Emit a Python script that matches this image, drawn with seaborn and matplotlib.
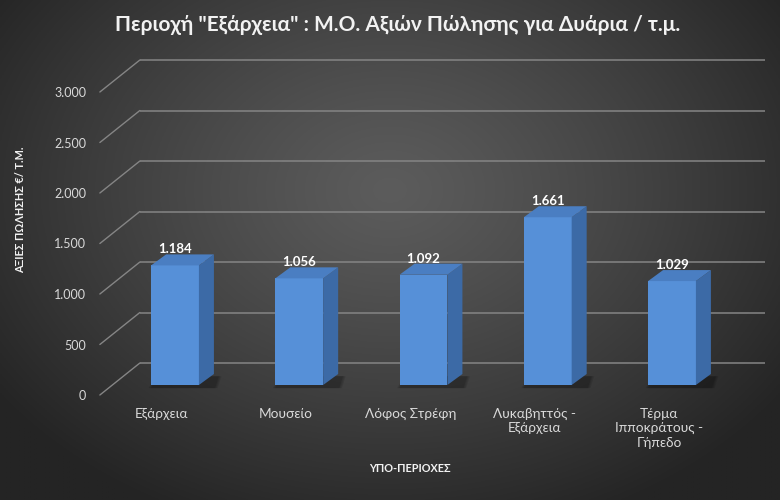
import numpy as np
import pandas as pd
import matplotlib
matplotlib.use("Agg")
import matplotlib.pyplot as plt
from matplotlib.patches import Polygon
import seaborn as sns

# ---- data ----
categories = ["Εξάρχεια", "Μουσείο", "Λόφος Στρέφη", "Λυκαβηττός -\nΕξάρχεια", "Τέρμα\nΙπποκράτους -\nΓήπεδο"]
values = [1184, 1056, 1092, 1661, 1029]
value_labels = ["1.184", "1.056", "1.092", "1.661", "1.029"]
yticks = [0, 500, 1000, 1500, 2000, 2500, 3000]
ytick_labels = ["0", "500", "1.000", "1.500", "2.000", "2.500", "3.000"]
title = 'Περιοχή "Εξάρχεια" : Μ.Ο. Αξιών Πώλησης για Δυάρια / τ.μ.'
ylabel = "ΑΞΙΕΣ ΠΩΛΗΣΗΣ €/ Τ.Μ."
xlabel = "ΥΠΟ-ΠΕΡΙΟΧΕΣ"

sns.set_style("white")
plt.rcParams["font.family"] = ["Lato", "DejaVu Sans"]

W, H = 780, 500
fig = plt.figure(figsize=(W / 100, H / 100), dpi=100)

# ---- background gradient ----
ax_bg = fig.add_axes([0, 0, 1, 1], zorder=0)
yy, xx = np.mgrid[0:1:300j, 0:1:400j]
r = np.sqrt(((xx - 0.5) / 0.62) ** 2 + ((yy - 0.62) / 0.72) ** 2)
r = np.clip(r, 0, 1)
lum = (92 + (36 - 92) * r ** 1.2) / 255.0
img = np.dstack([lum, lum, lum])
ax_bg.imshow(img, extent=[0, 1, 0, 1], origin="lower", aspect="auto")
ax_bg.set_axis_off()

# ---- geometry of the oblique projection (pixels) ----
XS = 124.25   # px per category
YS = 0.101    # px per value unit
X0, Y0 = 175, 385  # bar-plane: category 0 centre, value 0 (px from top)
BAR_D = (15, 11)    # bar depth offset (right, up) in px
BACK = (27, 22)     # back wall offset
FRONT = (-13, -10)  # front (axis labels) plane offset

# bar-plane axes covering the whole figure
ax = fig.add_axes([0, 0, 1, 1], zorder=2)
ax.patch.set_alpha(0)
df = pd.DataFrame({"cat": categories, "val": values})
bw = 0.385
sns.barplot(data=df, x="cat", y="val", ax=ax, width=bw, color="#5690d8",
            saturation=1, edgecolor="none", zorder=3)
ax.set_xlim(-X0 / XS, (W - X0) / XS)
ax.set_ylim((Y0 - H) / YS, Y0 / YS)
ax.set_axis_off()

dxb, dyb = BAR_D[0] / XS, BAR_D[1] / YS
dxw, dyw = BACK[0] / XS, BACK[1] / YS
dxf, dyf = FRONT[0] / XS, FRONT[1] / YS

# back wall gridlines + diagonal side-wall lines
x_wall_l, x_wall_r = -0.5, (765 - BACK[0] - X0) / XS
for v in yticks:
    ax.plot([x_wall_l + dxw, x_wall_r + dxw], [v + dyw, v + dyw],
            color="#858585", lw=1.1, zorder=1, solid_capstyle="butt")
    ax.plot([x_wall_l + dxf, x_wall_l + dxw], [v + dyf, v + dyw],
            color="#858585", lw=1.0, zorder=1)

# 3D faces and shadows of bars
for p, lab in zip(ax.patches, value_labels):
    x0 = p.get_x()
    x1 = x0 + p.get_width()
    h = p.get_height()
    for k, a in enumerate([0.10, 0.10, 0.12]):
        sh = Polygon([(x0 - 0.02 + 0.01 * k, -30), (x1 + dxb + 0.03 - 0.01 * k, -30),
                      (x1 + dxb + 0.06 - 0.01 * k, dyb * 0.8), (x0 + 0.04, dyb * 0.8)],
                     closed=True, facecolor="black", alpha=a, edgecolor="none", zorder=2)
        ax.add_patch(sh)
    side = Polygon([(x1, 0), (x1, h), (x1 + dxb, h + dyb), (x1 + dxb, dyb)],
                   closed=True, facecolor="#3c6aa6", edgecolor="none", zorder=3)
    top = Polygon([(x0, h), (x1, h), (x1 + dxb, h + dyb), (x0 + dxb, h + dyb)],
                  closed=True, facecolor="#4a7ec2", edgecolor="none", zorder=3)
    ax.add_patch(side)
    ax.add_patch(top)
    ax.text((x0 + x1) / 2, h + 16 / YS, lab, ha="center", va="center",
            fontsize=9.5, fontweight="bold", color="white", zorder=5)

# front plane axes for tick labels
axf = fig.add_axes([0, 0, 1, 1], zorder=3)
axf.patch.set_alpha(0)
axf.set_xlim(-(X0 + FRONT[0]) / XS, (W - X0 - FRONT[0]) / XS)
axf.set_ylim((Y0 - FRONT[1] - H) / YS, (Y0 - FRONT[1]) / YS)
for s in axf.spines.values():
    s.set_visible(False)
axf.spines["left"].set_position(("data", -0.5))
axf.spines["bottom"].set_position(("data", 0))
axf.set_yticks(yticks)
axf.set_yticklabels(ytick_labels)
axf.set_xticks(range(len(categories)))
axf.set_xticklabels(categories, linespacing=1.25, va="top")
axf.tick_params(axis="y", length=0, pad=10, labelsize=9, labelcolor="#d9d9d9")
axf.tick_params(axis="x", length=0, pad=9, labelsize=9.8, labelcolor="#d9d9d9")
axf.grid(False)

fig.text(398 / W, 1 - 25 / H, title, ha="center", va="center", fontsize=15,
         fontweight="bold", color="#f2f2f2")
fig.text(21 / W, 1 - 210 / H, ylabel, ha="center", va="center", rotation=90,
         fontsize=7.8, fontweight="bold", color="#f2f2f2")
fig.text(410 / W, 1 - 468 / H, xlabel, ha="center", va="center",
         fontsize=7.8, fontweight="bold", color="#f2f2f2")

fig.savefig("out.png", dpi=100)
